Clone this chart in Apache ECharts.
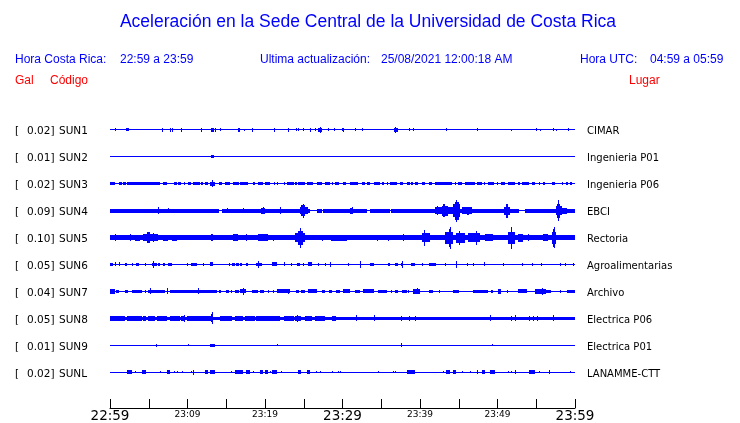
<!DOCTYPE html>
<html><head><meta charset="utf-8">
<script src="https://cdn.jsdelivr.net/npm/echarts@6/dist/echarts.min.js"></script>
<style>html,body{margin:0;padding:0;background:#fff}#c{width:740px;height:423px}</style>
</head><body><div id="c"></div>
<script>
// ---- data (time in minutes after 22:59; amplitude = half-height of trace envelope, relative units) ----
const stations = ['SUN1','SUN2','SUN3','SUN4','SUN5','SUN6','SUN7','SUN8','SUN9','SUNL'];
const places = ['CIMAR','Ingenieria P01','Ingenieria P06','EBCI','Rectoria','Agroalimentarias','Archivo','Electrica P06','Electrica P01','LANAMME-CTT'];
const peaks = ['0.02','0.01','0.02','0.09','0.10','0.05','0.04','0.05','0.01','0.02'];
const baseAmp = [0.5,0.5,0.5,0.5,2.5,0.5,0.5,1.5,0.5,0.5];
const xTickLabels = ['22:59','','23:09','','23:19','','23:29','','23:39','','23:49','','23:59'];

// bursts: [start, end, amplitude]
const sun1 = [[0.7,0.7,1.5],[2.1,2.4,1.5],[6.7,6.7,1.8],[7.8,7.8,1.8],[8.0,8.0,1.8],[9.1,9.1,1.8],[11.7,11.7,1.8],[13.0,13.4,1.6],[13.6,13.6,1.8],[14.2,14.2,1.5],[16.5,16.5,1.8],[16.6,16.6,1.8],[17.3,17.3,1.2],[18.3,18.3,1.8],[21.1,21.1,1.8],[23.0,23.0,1.8],[24.0,24.0,1.5],[24.3,24.3,1.5],[24.9,24.9,1.5],[25.8,25.8,1.8],[26.5,26.5,1.5],[26.9,27.3,2.0],[27.1,27.1,2.8],[28.1,28.1,1.5],[28.9,28.9,1.5],[29.9,30.2,1.5],[30.0,30.0,2.2],[31.6,31.6,1.5],[32.5,32.5,1.5],[36.6,37.1,1.8],[36.8,36.8,3.2],[38.6,38.6,1.5],[39.1,39.1,1.5],[43.4,43.4,1.5],[47.4,47.4,1.5],[51.7,51.7,1.2],[55.0,55.0,1.5],[55.5,55.5,1.2],[57.1,57.1,1.5],[57.5,57.5,1.2],[59.1,59.1,1.5]];
const sun2 = [[13.0,13.4,1.5]];
const sun3 = [[0,0.6,1.5],[1.1,1.5,1.5],[1.7,2.0,1.5],[2.2,6.5,1.5],[6.9,7.3,1.5],[8.2,8.6,1.5],[8.8,9.2,1.5],[9.5,9.7,1.5],[10.1,10.5,1.5],[10.7,11.6,1.5],[11.8,12.0,1.5],[12.3,12.7,1.5],[12.9,13.5,1.8],[13.1,13.3,3.0],[13.2,13.2,3.5],[14.0,14.4,1.5],[14.8,15.5,1.5],[15.9,16.6,1.5],[16.8,17.8,1.5],[18.5,18.7,1.5],[19.1,19.8,1.5],[20.0,20.6,1.5],[21.1,21.3,1.5],[21.5,21.7,1.5],[22.4,22.6,1.5],[22.8,23.7,1.5],[23.9,24.1,1.5],[24.3,25.2,1.5],[25.4,26.2,1.5],[26.7,27.3,1.5],[27.7,28.4,1.5],[28.6,28.8,1.5],[29.0,29.5,1.5],[30.1,30.5,1.5],[31.0,32.0,1.5],[32.5,32.9,1.5],[33.1,33.5,1.5],[34.0,34.8,1.5],[35.1,35.3,1.5],[35.7,35.9,1.5],[36.1,37.0,1.5],[37.4,37.8,1.5],[38.3,38.7,1.5],[38.9,39.1,1.5],[39.4,39.8,1.5],[40.2,40.6,1.5],[41.1,41.5,1.5],[41.9,44.1,1.5],[44.5,44.7,1.5],[44.9,45.4,1.5],[45.8,47.1,1.5],[47.3,48.0,1.5],[48.2,48.4,1.5],[48.8,49.5,1.5],[49.9,50.1,1.5],[50.5,51.0,1.5],[51.4,52.3,1.5],[52.7,52.9,1.5],[53.1,54.0,1.5],[54.4,54.8,1.5],[55.3,55.5,1.5],[55.9,56.1,1.5],[57.0,57.4,1.5],[58.3,58.5,1.5],[58.9,59.1,1.5],[59.4,59.6,1.5]];
const sun4 = [[0,14.1,2],[14.5,25.8,2],[26.7,27.3,2],[27.5,33.1,2],[33.5,36.1,2],[36.3,52.8,2],[53.6,60,2],[6.2,6.2,3.2],[7.5,7.5,2.8],[15.1,15.1,2.8],[17.2,17.2,2.8],[19.5,20.0,3.0],[19.8,19.8,3.8],[21.9,21.9,3.2],[24.5,25.5,3.5],[24.7,25.2,5.5],[24.9,25.0,7.0],[31.0,31.3,3.0],[31.2,31.2,3.5],[41.9,42.8,3.5],[42.2,42.3,4.5],[42.8,43.6,5.0],[43.0,43.2,6.5],[43.6,44.3,3.5],[44.3,45.2,6.5],[44.5,45.0,9.0],[44.7,44.8,11.0],[45.4,46.7,3.2],[46.1,46.3,4.0],[50.8,51.6,4.0],[51.1,51.3,7.0],[57.5,58.3,4.5],[57.7,58.0,7.0],[57.8,57.9,10.5],[58.3,59.0,3.0]];
const sun5 = [[0.6,0.6,3.2],[2.6,2.6,3.2],[3.2,3.9,3.0],[4.3,6.2,3.5],[4.8,5.1,5.5],[5.5,5.6,4.5],[6.9,7.5,3.0],[8.0,8.7,3.0],[13.0,13.3,3.8],[15.9,16.5,3.8],[17.6,17.6,3.5],[19.1,19.8,3.8],[19.4,20.4,3.5],[21.0,21.0,3.0],[23.9,25.2,4.5],[24.2,24.9,7.0],[24.5,24.7,10.0],[27.3,27.3,3.0],[28.5,30.6,3.0],[34.4,34.4,3.0],[35.9,35.9,3.0],[37.8,37.8,3.2],[40.2,41.3,4.5],[40.5,40.7,8.0],[43.2,44.3,6.0],[43.7,44.0,9.0],[43.9,43.9,11.0],[44.7,45.8,5.0],[45.0,45.2,7.0],[46.2,47.7,4.5],[47.2,47.4,7.0],[48.4,49.4,3.2],[51.4,52.3,6.0],[51.7,51.9,9.0],[51.8,51.8,11.0],[52.6,53.3,4.0],[53.9,53.9,3.5],[55.9,56.5,3.5],[57.0,57.6,6.0],[57.2,57.4,9.0],[57.3,57.3,10.5]];
const sun6 = [[0,0.4,1.8],[0.6,0.6,2],[1.1,1.3,2],[1.9,2.2,1.8],[2.8,3.0,1.8],[3.4,3.7,1.8],[4.5,4.5,1.8],[5.4,6.0,1.8],[5.6,5.7,3.2],[6.2,6.5,1.8],[6.9,7.1,1.8],[7.5,8.0,1.8],[9.9,10.1,1.8],[10.5,11.2,1.8],[12.0,12.0,1.2],[12.9,13.3,2.0],[15.3,15.5,1.8],[15.7,16.1,1.8],[16.3,16.6,1.8],[16.8,17.0,1.8],[17.6,17.8,1.8],[18.9,19.4,1.8],[19.1,19.2,3.2],[19.4,19.6,1.8],[20.9,21.5,2.0],[22.4,22.6,2.0],[23.4,23.4,1.8],[24.1,24.5,1.8],[24.9,24.9,1.8],[25.6,26.0,2.0],[26.9,26.9,1.8],[27.7,27.7,1.8],[28.4,28.4,2.2],[30.7,30.7,1.5],[32.3,32.3,3.8],[33.5,34.0,1.8],[35.9,36.1,1.8],[36.8,37.2,1.8],[37.6,37.8,1.8],[37.7,37.7,3.2],[38.9,39.4,1.8],[40.2,40.2,1.5],[41.1,42.1,1.8],[43.2,43.2,1.8],[44.6,44.8,2.0],[44.7,44.7,3.8],[46.0,46.0,1.5],[46.8,46.8,1.8],[48.2,48.2,2.0],[50.7,50.8,1.8],[53.1,53.1,1.5],[54.4,54.4,1.2],[55.6,55.8,1.8],[58.1,58.1,1.5],[58.7,58.9,1.8],[59.8,59.8,1.5]];
const sun7 = [[0,0.6,2.2],[0.8,1.1,1.8],[1.9,2.3,1.8],[2.8,4.1,1.8],[4.5,4.7,1.8],[4.9,5.4,1.8],[5.1,5.1,3.0],[5.4,7.1,1.8],[7.3,7.5,2.0],[7.4,7.4,3.0],[7.7,13.8,1.8],[11.4,11.4,3.0],[14.0,14.3,1.8],[15.0,15.4,1.8],[15.6,15.8,1.8],[16.1,16.6,1.8],[16.8,17.6,2.0],[17.1,17.1,3.5],[18.3,19.1,1.8],[19.4,19.9,1.8],[20.4,20.4,1.8],[21.0,21.0,1.8],[21.5,23.2,2.0],[23.0,23.0,2.5],[24.0,24.4,1.8],[24.7,25.1,1.8],[25.6,26.7,2.0],[27.3,27.7,1.8],[28.3,28.6,1.8],[29.2,29.7,1.8],[30.1,31.0,2.0],[31.6,32.3,1.8],[32.7,34.0,2.0],[34.6,35.7,1.8],[36.2,36.2,1.8],[36.8,37.2,1.8],[37.7,38.3,1.8],[38.4,38.6,1.8],[39.1,40.0,2.2],[39.6,39.6,3.0],[41.1,41.7,1.8],[42.4,42.4,1.8],[44.3,45.0,1.8],[46.9,48.8,1.8],[49.2,49.4,1.8],[50.1,50.5,2.2],[51.2,51.4,1.8],[52.7,53.8,2.0],[54.8,56.3,2.2],[55.7,55.7,3.5],[56.3,56.9,1.8],[58.1,58.2,1.8],[59.0,60,1.8]];
const sun8 = [[0,1.9,2.5],[2.2,4.1,2.5],[4.3,4.7,2.5],[4.9,5.8,2.5],[6.0,7.3,2.5],[7.7,9.0,2.5],[9.2,9.6,2.5],[9.9,13.1,2.5],[14.2,15.7,2.5],[16.1,17.2,2.5],[17.4,18.7,2.5],[18.9,21.9,2.5],[22.4,23.7,2.5],[23.9,24.7,2.5],[25.2,26.0,2.5],[26.5,27.7,2.5],[28.6,29.2,2.5],[29.2,60,1.8],[9.5,9.5,3.5],[13.0,13.3,4.0],[13.1,13.2,6.0],[24.1,24.1,3.5],[31.8,31.8,3.0],[34.0,34.1,3.2],[37.5,37.5,2.8],[38.6,38.6,2.8],[39.4,39.4,2.8],[49.0,49.0,3.0],[51.7,51.7,2.8],[52.2,52.3,3.0],[54.1,54.1,2.8],[54.6,54.6,2.8],[55.1,55.1,2.5],[57.1,57.1,3.0]];
const sun9 = [[5.9,5.9,1.5],[10.1,10.1,1.2],[12.9,13.5,1.5],[21.5,21.5,1.2],[37.6,37.6,1.8],[49.3,49.3,1.2]];
const sunl = [[2.2,2.8,1.8],[3.2,3.2,1.2],[4.1,4.7,1.8],[6.4,6.4,1.2],[7.3,7.7,1.8],[8.2,8.2,1.2],[8.7,8.7,1.2],[9.3,9.3,1.2],[10.4,10.4,1.2],[10.7,10.7,2.5],[12.3,12.7,1.8],[12.9,13.5,1.8],[15.6,15.6,1.2],[16.1,17.2,1.8],[17.6,18.1,1.8],[18.5,18.5,1.2],[19.4,19.8,1.8],[20.0,20.4,1.8],[20.7,20.7,1.2],[20.9,21.5,1.8],[22.1,22.1,1.2],[24.3,24.7,1.8],[25.4,25.8,1.8],[26.6,26.6,1.2],[27.1,27.1,1.2],[28.6,28.6,1.2],[29.4,29.4,1.2],[29.7,29.7,1.2],[34.6,34.6,1.2],[36.5,36.5,1.2],[36.8,36.8,1.2],[38.3,39.4,2.0],[43.0,43.0,1.2],[43.4,43.9,1.8],[44.3,44.7,1.8],[45.4,45.4,1.2],[46.5,46.5,1.2],[47.3,47.3,1.8],[48.0,48.4,1.8],[49.0,49.7,1.8],[51.3,51.3,1.2],[51.7,51.7,1.2],[52.3,52.4,1.8],[54.0,54.8,2.0],[55.4,55.4,1.2],[56.6,56.8,2.0],[59.4,59.4,1.2]];
const traces = [sun1,sun2,sun3,sun4,sun5,sun6,sun7,sun8,sun9,sunl];

// ---- layout ----
const ROW_SPACING = 27, FIRST_ROW = 279; // y-axis units (0..306)
const BLUE = '#0000ff';
const rowCenter = i => FIRST_ROW - ROW_SPACING * i;

function renderItem(params, api) {
  const t0 = api.value(0), t1 = api.value(1), a = api.value(2), c = api.value(3);
  const p0 = api.coord([t0, c + a]), p1 = api.coord([t1, c - a]);
  const x0 = Math.round(p0[0]); let x1 = Math.round(p1[0]);
  if (x1 <= x0) x1 = x0 + 1;
  const y0 = Math.round(p0[1]); let y1 = Math.round(p1[1]);
  if (y1 <= y0) y1 = y0 + 1;
  return { type: 'rect', shape: { x: x0, y: y0, width: x1 - x0, height: y1 - y0 }, style: { fill: BLUE } };
}

const series = traces.map((tr, i) => ({
  type: 'custom',
  name: stations[i],
  renderItem: renderItem,
  clip: false,
  silent: true,
  encode: { x: [0, 1], y: [3] },
  data: [[0, 60, baseAmp[i], rowCenter(i)]].concat(tr.map(s => [s[0], s[1], s[2], rowCenter(i)]))
}));

const SANS = 'Liberation Sans, Arial, sans-serif';
const DV = 'DejaVu Sans';
const graphic = [
  { type: 'text', x: 368, y: 22, style: { text: 'Aceleración en la Sede Central de la Universidad de Costa Rica', font: '17.5px ' + SANS, fill: BLUE, textAlign: 'center', textVerticalAlign: 'middle' } },
  { type: 'text', x: 15, y: 60, style: { text: 'Hora Costa Rica:', font: '12px ' + SANS, fill: BLUE, textVerticalAlign: 'middle' } },
  { type: 'text', x: 120, y: 60, style: { text: '22:59 a 23:59', font: '12px ' + SANS, fill: BLUE, textVerticalAlign: 'middle' } },
  { type: 'text', x: 260, y: 60, style: { text: 'Ultima actualización:', font: '12px ' + SANS, fill: BLUE, textVerticalAlign: 'middle' } },
  { type: 'text', x: 381, y: 60, style: { text: '25/08/2021 12:00:18 AM', font: '12px ' + SANS, fill: BLUE, textVerticalAlign: 'middle' } },
  { type: 'text', x: 580, y: 60, style: { text: 'Hora UTC:', font: '12px ' + SANS, fill: BLUE, textVerticalAlign: 'middle' } },
  { type: 'text', x: 650, y: 60, style: { text: '04:59 a 05:59', font: '12px ' + SANS, fill: BLUE, textVerticalAlign: 'middle' } },
  { type: 'text', x: 15, y: 81, style: { text: 'Gal', font: '12px ' + SANS, fill: '#ff0000', textVerticalAlign: 'middle' } },
  { type: 'text', x: 50, y: 81, style: { text: 'Código', font: '12px ' + SANS, fill: '#ff0000', textVerticalAlign: 'middle' } },
  { type: 'text', x: 629, y: 81, style: { text: 'Lugar', font: '12px ' + SANS, fill: '#ff0000', textVerticalAlign: 'middle' } }
];
stations.forEach((s, i) => {
  const y = 131 + ROW_SPACING * i;
  graphic.push({ type: 'text', x: 15, y: y, style: { text: '[', font: '10.5px ' + DV, fill: '#000', textVerticalAlign: 'middle' } });
  graphic.push({ type: 'text', x: 54.5, y: y, style: { text: peaks[i] + ']', font: '10.5px ' + DV, fill: '#000', textAlign: 'right', textVerticalAlign: 'middle' } });
  graphic.push({ type: 'text', x: 59, y: y, style: { text: s, font: '10.5px ' + DV, fill: '#000', textVerticalAlign: 'middle' } });
  graphic.push({ type: 'text', x: 587, y: y, style: { text: places[i], font: '10px ' + DV, fill: '#000', textVerticalAlign: 'middle' } });
});

const chart = echarts.init(document.getElementById('c'), null, { renderer: 'canvas' });
chart.setOption({
  animation: false,
  backgroundColor: '#fff',
  grid: { left: 110, right: 165, top: 103, bottom: 14, containLabel: false },
  xAxis: {
    type: 'value', min: 0, max: 60, interval: 5,
    splitLine: { show: false },
    axisLine: { show: true, lineStyle: { color: '#000', width: 1 } },
    axisTick: { show: true, inside: true, length: 9, lineStyle: { color: '#000' } },
    axisLabel: {
      margin: 1,
      formatter: function (v) {
        const idx = Math.round(v / 5);
        const s = xTickLabels[idx];
        if (!s) return '';
        return (idx % 6 === 0) ? '{b|' + s + '}' : '{s|' + s + '}';
      },
      rich: {
        b: { fontSize: 13.5, fontFamily: DV, color: '#000', lineHeight: 14 },
        s: { fontSize: 9, fontFamily: DV, color: '#000', lineHeight: 10, padding: [2, 0, 0, 0] }
      }
    }
  },
  yAxis: { type: 'value', min: 0, max: 306, show: false },
  series: series,
  graphic: graphic
});
</script>
</body></html>
